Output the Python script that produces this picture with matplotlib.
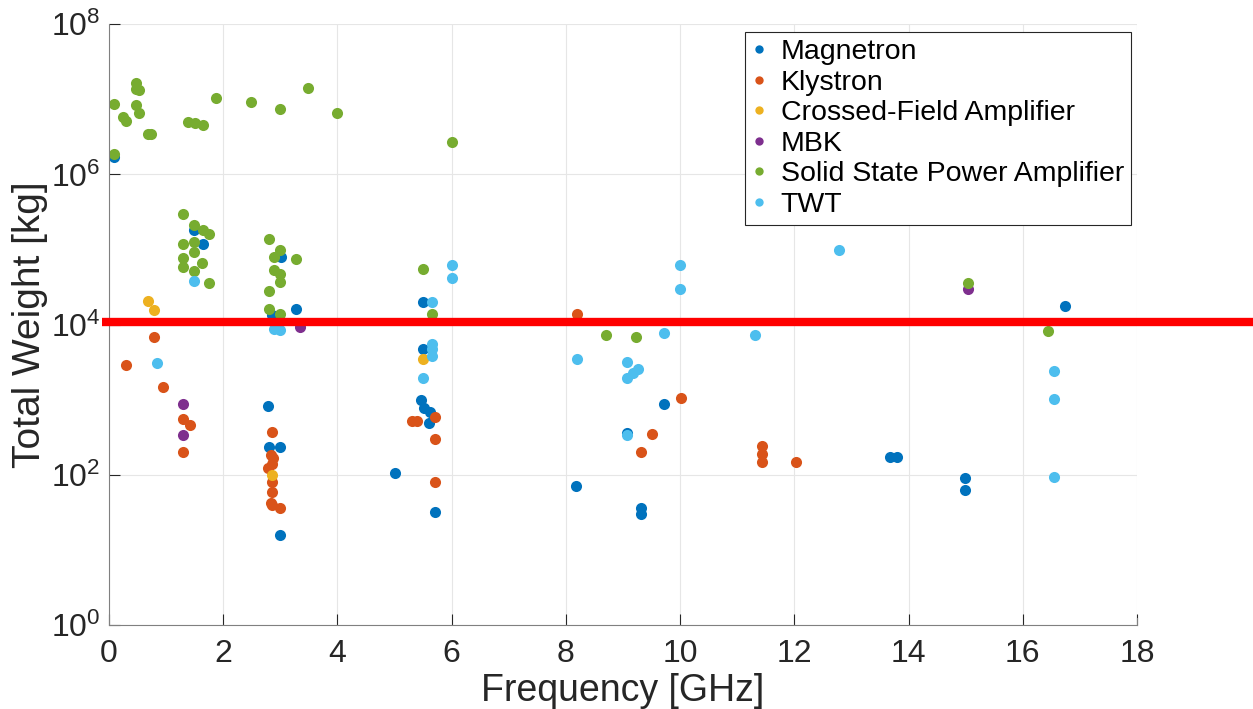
import matplotlib
matplotlib.use("Agg")
import matplotlib.pyplot as plt

plt.rcParams['font.family'] = ['Liberation Sans', 'DejaVu Sans']
plt.rcParams['mathtext.default'] = 'regular'

# frequency [GHz] and total weight [kg] for each tube type
mag_f = [0.09, 1.49, 1.64, 3.01, 3.28, 2.85, 2.79, 2.80, 2.99, 2.99, 5.0, 5.49, 5.49, 5.47,
         5.52, 5.62, 5.61, 5.71, 8.17, 9.07, 9.32, 9.32, 9.72, 13.68, 13.79, 14.98, 14.98, 16.74]
mag_w = [1.7e6, 1.8e5, 1.2e5, 7.9e4, 1.6e4, 1.35e4, 830, 234, 234, 16, 105, 2.0e4, 4.7e3, 1000,
         780, 690, 490, 32, 72, 360, 36, 30, 870, 174, 174, 91, 63, 1.8e4]

kly_f = [0.30, 0.79, 0.95, 1.29, 1.41, 1.29, 2.85, 2.83, 2.87, 2.85, 2.79, 2.85, 2.85, 2.83,
         2.86, 2.99, 5.30, 5.39, 5.71, 5.71, 5.71, 8.20, 9.32, 9.51, 10.01, 11.44, 11.44, 11.44, 12.03]
kly_w = [2.9e3, 6.8e3, 1.5e3, 560, 457, 200, 370, 182, 166, 140, 123, 81, 60, 43,
         40, 36, 525, 525, 600, 300, 80, 1.4e4, 200, 355, 1070, 245, 190, 148, 148]

cfa_f = [0.69, 0.79, 2.85, 5.49]
cfa_w = [2.1e4, 1.55e4, 100, 3.5e3]

mbk_f = [1.29, 1.29, 3.34, 15.04]
mbk_w = [890, 340, 9.3e3, 3.0e4]

sspa_f = [0.09, 0.48, 0.48, 0.53, 0.48, 0.53, 0.24, 0.29, 0.69, 0.74, 0.09, 1.88, 1.38, 1.51,
          1.64, 2.49, 2.99, 3.49, 3.99, 6.0,
          1.29, 1.49, 1.64, 1.75, 1.49, 1.29, 1.49, 1.29, 1.63, 1.29, 1.49, 1.75,
          2.80, 2.99, 2.89, 3.28, 2.89, 2.99, 2.99, 2.80, 2.80, 2.99,
          5.50, 5.65, 8.70, 9.23, 15.04, 16.44]
sspa_w = [8.7e6, 1.66e7, 1.38e7, 1.32e7, 8.3e6, 6.5e6, 5.8e6, 5.2e6, 3.5e6, 3.4e6, 1.86e6, 1.05e7, 5.0e6, 4.8e6,
          4.5e6, 9.3e6, 7.4e6, 1.41e7, 6.6e6, 2.7e6,
          2.95e5, 2.1e5, 1.8e5, 1.6e5, 1.26e5, 1.17e5, 9.3e4, 7.8e4, 6.6e4, 5.9e4, 5.2e4, 3.6e4,
          1.38e5, 9.8e4, 7.9e4, 7.6e4, 5.4e4, 4.8e4, 3.7e4, 2.8e4, 1.6e4, 1.4e4,
          5.5e4, 1.4e4, 7.2e3, 6.8e3, 3.6e4, 8.3e3]

twt_f = [0.84, 1.49, 2.89, 2.99, 5.65, 5.65, 5.65, 5.65, 5.50, 6.0, 6.0, 8.20, 9.07, 9.27,
         9.17, 9.07, 9.07, 9.72, 10.0, 10.0, 11.31, 12.78, 16.55, 16.55, 16.55]
twt_w = [3.1e3, 3.8e4, 8.7e3, 8.5e3, 2.0e4, 5.6e3, 4.7e3, 3.8e3, 1.95e3, 6.2e4, 4.2e4, 3.5e3, 3.2e3, 2.6e3,
         2.3e3, 1.95e3, 340, 7.8e3, 6.2e4, 3.0e4, 7.2e3, 9.8e4, 2.45e3, 1.02e3, 93]

limit_w = 1.1e4

series = [
    ("Magnetron", mag_f, mag_w, "#0072BD"),
    ("Klystron", kly_f, kly_w, "#D95319"),
    ("Crossed-Field Amplifier", cfa_f, cfa_w, "#EDB120"),
    ("MBK", mbk_f, mbk_w, "#7E2F8E"),
    ("Solid State Power Amplifier", sspa_f, sspa_w, "#77AC30"),
    ("TWT", twt_f, twt_w, "#4DBEEE"),
]

fig = plt.figure(figsize=(12.53, 7.09), dpi=100)
ax = fig.add_axes([0.087, 0.118, 0.8205, 0.848])

for name, f, w, c in series:
    ax.plot(f, w, 'o', color=c, markersize=8, markeredgewidth=0, label=name)

# weight limit line, runs past the right edge
ax.plot([-0.12, 22], [limit_w, limit_w], color='red', linewidth=6, clip_on=False, zorder=5,
        solid_capstyle='butt')

ax.set_yscale('log')
ax.set_xlim(0, 18)
ax.set_ylim(1, 1e8)
ax.set_xticks(range(0, 19, 2))
ax.set_yticks([1, 1e2, 1e4, 1e6, 1e8])
ax.minorticks_off()
ax.tick_params(direction='in', length=8, width=0.8, labelsize=23, colors='#262626')
ax.tick_params(axis='x', pad=10)
ax.tick_params(axis='y', pad=6)
ax.grid(True, color='#e6e6e6', linewidth=0.8)
ax.set_axisbelow(True)
for s in ['top', 'right']:
    ax.spines[s].set_visible(False)
for s in ['left', 'bottom']:
    ax.spines[s].set_color('#808080')
    ax.spines[s].set_linewidth(0.8)
# tick mark at the right end of the x axis
ax.plot([18, 18], [1, 1.25], color='#808080', linewidth=0.8, clip_on=False)

ax.set_xlabel("Frequency [GHz]", fontsize=27, color='#262626', labelpad=3)
ax.set_ylabel("Total Weight [kg]", fontsize=28, color='#262626', labelpad=2)

leg = ax.legend(loc='upper right', bbox_to_anchor=(0.994, 0.987), fontsize=20.5, markerscale=0.75,
                handlelength=0.5, handletextpad=0.5, labelspacing=0.16, borderpad=0.25,
                fancybox=False, framealpha=1, edgecolor='#262626', borderaxespad=0)
leg.get_frame().set_linewidth(0.8)

fig.savefig("out.png", dpi=100)
